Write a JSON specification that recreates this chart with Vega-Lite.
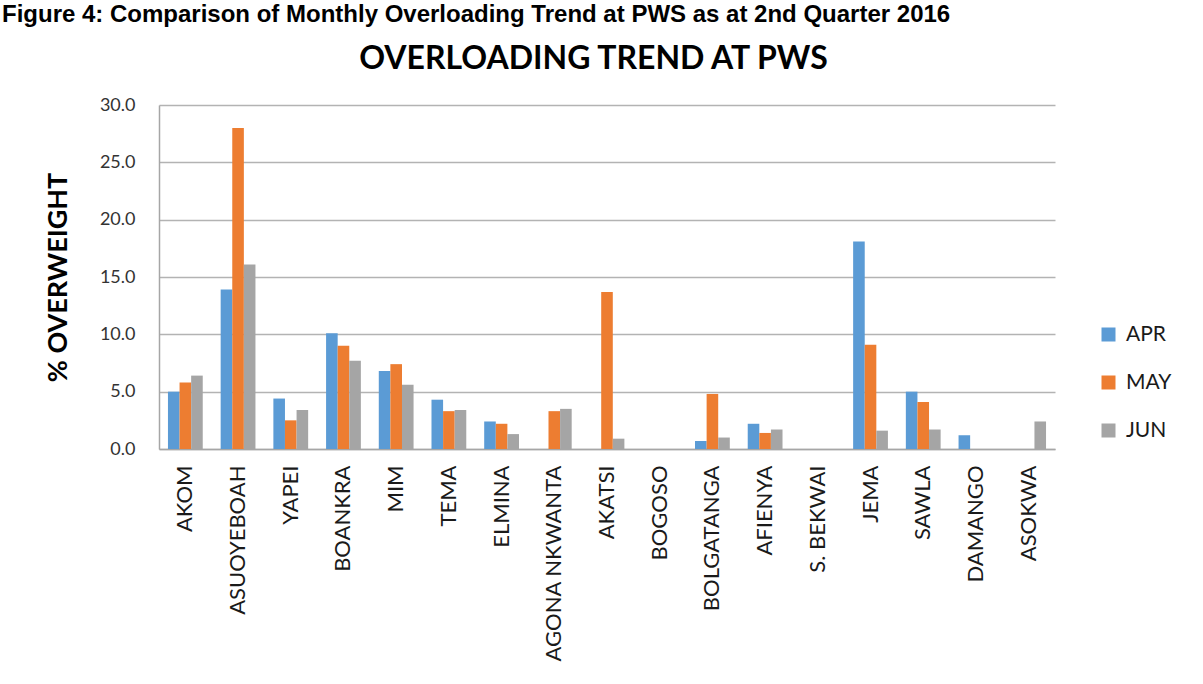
{
  "$schema": "https://vega.github.io/schema/vega-lite/v6.json",
  "width": 896,
  "height": 344,
  "autosize": {"type": "none"},
  "padding": {"left": 159, "top": 105, "right": 148, "bottom": 235},
  "background": "white",
  "title": {
    "text": "Figure 4: Comparison of Monthly Overloading Trend at PWS as at 2nd Quarter 2016",
    "anchor": "start",
    "frame": "group",
    "dx": -157,
    "offset": 15,
    "font": "Liberation Sans",
    "fontSize": 24,
    "fontWeight": "bold",
    "color": "black"
  },
  "config": {
    "view": {"stroke": null},
    "font": "Lato"
  },
  "data": {
    "values": [
      {"station": "AKOM", "month": "APR", "value": 5.0},
      {"station": "AKOM", "month": "MAY", "value": 5.8},
      {"station": "AKOM", "month": "JUN", "value": 6.4},
      {"station": "ASUOYEBOAH", "month": "APR", "value": 13.9},
      {"station": "ASUOYEBOAH", "month": "MAY", "value": 28.0},
      {"station": "ASUOYEBOAH", "month": "JUN", "value": 16.1},
      {"station": "YAPEI", "month": "APR", "value": 4.4},
      {"station": "YAPEI", "month": "MAY", "value": 2.5},
      {"station": "YAPEI", "month": "JUN", "value": 3.4},
      {"station": "BOANKRA", "month": "APR", "value": 10.1},
      {"station": "BOANKRA", "month": "MAY", "value": 9.0},
      {"station": "BOANKRA", "month": "JUN", "value": 7.7},
      {"station": "MIM", "month": "APR", "value": 6.8},
      {"station": "MIM", "month": "MAY", "value": 7.4},
      {"station": "MIM", "month": "JUN", "value": 5.6},
      {"station": "TEMA", "month": "APR", "value": 4.3},
      {"station": "TEMA", "month": "MAY", "value": 3.3},
      {"station": "TEMA", "month": "JUN", "value": 3.4},
      {"station": "ELMINA", "month": "APR", "value": 2.4},
      {"station": "ELMINA", "month": "MAY", "value": 2.2},
      {"station": "ELMINA", "month": "JUN", "value": 1.3},
      {"station": "AGONA NKWANTA", "month": "MAY", "value": 3.3},
      {"station": "AGONA NKWANTA", "month": "JUN", "value": 3.5},
      {"station": "AKATSI", "month": "MAY", "value": 13.7},
      {"station": "AKATSI", "month": "JUN", "value": 0.9},
      {"station": "BOLGATANGA", "month": "APR", "value": 0.7},
      {"station": "BOLGATANGA", "month": "MAY", "value": 4.8},
      {"station": "BOLGATANGA", "month": "JUN", "value": 1.0},
      {"station": "AFIENYA", "month": "APR", "value": 2.2},
      {"station": "AFIENYA", "month": "MAY", "value": 1.4},
      {"station": "AFIENYA", "month": "JUN", "value": 1.7},
      {"station": "JEMA", "month": "APR", "value": 18.1},
      {"station": "JEMA", "month": "MAY", "value": 9.1},
      {"station": "JEMA", "month": "JUN", "value": 1.6},
      {"station": "SAWLA", "month": "APR", "value": 5.0},
      {"station": "SAWLA", "month": "MAY", "value": 4.1},
      {"station": "SAWLA", "month": "JUN", "value": 1.7},
      {"station": "DAMANGO", "month": "APR", "value": 1.2},
      {"station": "ASOKWA", "month": "JUN", "value": 2.4}
    ]
  },
  "layer": [
    {
      "mark": {"type": "bar"},
      "encoding": {
        "x": {
          "field": "station",
          "type": "nominal",
          "scale": {
            "domain": ["AKOM", "ASUOYEBOAH", "YAPEI", "BOANKRA", "MIM", "TEMA", "ELMINA", "AGONA NKWANTA", "AKATSI", "BOGOSO", "BOLGATANGA", "AFIENYA", "S. BEKWAI", "JEMA", "SAWLA", "DAMANGO", "ASOKWA"],
            "paddingInner": 0.34,
            "paddingOuter": 0.17
          },
          "axis": {
            "orient": "bottom",
            "title": null,
            "labelAngle": -90,
            "labelFont": "Lato",
            "labelFontSize": 22,
            "labelColor": "#1a1a1a",
            "labelPadding": 16,
            "labelLimit": 0,
            "ticks": false,
            "grid": false,
            "domainColor": "#a6a6a6",
            "domainWidth": 1.5
          }
        },
        "xOffset": {
          "field": "month",
          "type": "nominal",
          "scale": {"domain": ["APR", "MAY", "JUN"], "paddingInner": 0, "paddingOuter": 0}
        },
        "y": {
          "field": "value",
          "type": "quantitative",
          "scale": {"domain": [0, 30], "nice": false},
          "axis": {
            "title": "% OVERWEIGHT",
            "titleFont": "Lato",
            "titleFontSize": 27,
            "titleFontWeight": "bold",
            "titleColor": "black",
            "titlePadding": 27,
            "values": [0, 5, 10, 15, 20, 25, 30],
            "format": ".1f",
            "labelFont": "Lato",
            "labelFontSize": 18,
            "labelColor": "#333333",
            "labelPadding": 24,
            "ticks": false,
            "domainColor": "#a6a6a6",
            "domainWidth": 1.5,
            "gridColor": "#b3b3b3",
            "gridWidth": 1.5
          }
        },
        "color": {
          "field": "month",
          "type": "nominal",
          "scale": {"domain": ["APR", "MAY", "JUN"], "range": ["#5b9bd5", "#ed7d31", "#a5a5a5"]},
          "legend": {
            "title": null,
            "orient": "none",
            "legendX": 939,
            "legendY": 219,
            "symbolType": "square",
            "symbolSize": 196,
            "symbolStrokeWidth": 0,
            "labelFont": "Lato",
            "labelFontSize": 21,
            "labelColor": "#1a1a1a",
            "labelOffset": 7,
            "rowPadding": 26,
            "padding": 0
          }
        }
      }
    },
    {
      "mark": {"type": "text"},
      "encoding": {
        "x": {
          "field": "station",
          "type": "nominal",
          "axis": {
            "orient": "top",
            "title": "OVERLOADING TREND AT PWS",
            "titleFont": "Lato",
            "titleFontSize": 32,
            "titleFontWeight": "bold",
            "titleColor": "black",
            "titlePadding": 30,
            "titleX": 434,
            "labels": false,
            "ticks": false,
            "domain": false,
            "grid": false
          }
        },
        "text": {"value": ""}
      }
    }
  ],
  "resolve": {"axis": {"x": "independent"}}
}
